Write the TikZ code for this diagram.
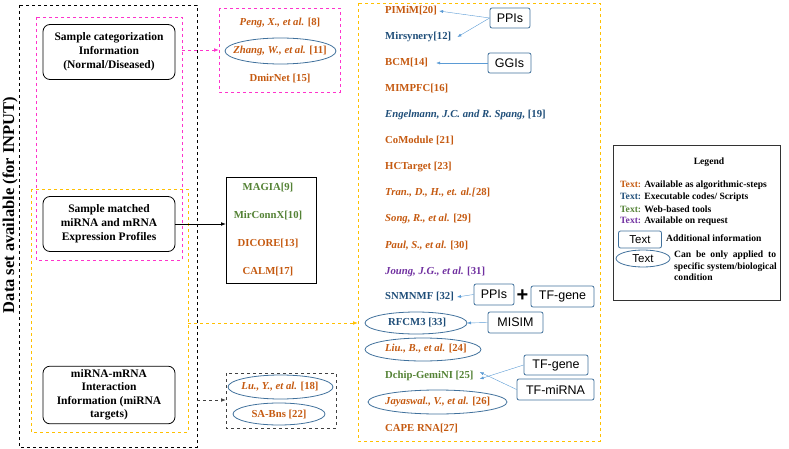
\documentclass[tikz,border=0pt]{standalone}
\usepackage{fontspec}
\setmainfont{Liberation Serif}
\newfontfamily\sansf{Liberation Sans}
\usetikzlibrary{arrows.meta,shapes.geometric}
\definecolor{cor}{HTML}{C55A11}
\definecolor{cbl}{HTML}{1F4E79}
\definecolor{cgr}{HTML}{548235}
\definecolor{cpu}{HTML}{7030A0}
\definecolor{cbox}{HTML}{41719C}
\definecolor{carr}{HTML}{5B9BD5}
\definecolor{cmag}{HTML}{FF33CC}
\definecolor{cyel}{HTML}{FFC000}
\tikzset{
 it/.style={anchor=west,font=\fontsize{10.7}{12}\selectfont\bfseries,inner sep=0pt},
 rbox/.style={draw=black,rounded corners=7pt,minimum width=132pt,minimum height=55pt,align=center,font=\fontsize{11.5}{14}\selectfont\bfseries,thick},
 info/.style={draw=cbox,rounded corners=2pt,thick,font=\sansf\fontsize{12.5}{13}\selectfont,inner sep=2pt},
 ell/.style={draw=cbox,thick,ellipse},
 iarr/.style={draw=carr,-{Latex[length=4pt]}},
 dsh/.style={dashed,thick},
 lg/.style={anchor=west,inner sep=0pt,font=\fontsize{9.6}{10}\selectfont\bfseries},
}
\begin{document}
\begin{tikzpicture}[x=1pt,y=-1pt]
\useasboundingbox (0,0) rectangle (789,449);
% left boxes
\draw[dsh,black] (19,5) rectangle (197,447);
\draw[dsh,cmag] (36,17) rectangle (182,260);
\draw[dsh,cyel] (31,189) rectangle (188,432);
\node[rbox] (b1) at (109,52) {Sample categorization\\Information\\(Normal/Diseased)};
\node[rbox] (b2) at (109,224) {Sample matched\\miRNA and mRNA\\Expression Profiles};
\node[rbox,font=\fontsize{11.5}{13.5}\selectfont\bfseries] (b3) at (109,395) {miRNA-mRNA\\Interaction\\Information (miRNA\\targets)};
\node[rotate=90,font=\fontsize{16.5}{18}\selectfont\bfseries] (lab) at (10,205) {Data set available (for INPUT)};
% magenta group
\draw[dsh,cmag] (219,8) rectangle (340,92);
\node[it,anchor=center,text=cor] (peng) at (280,23) {\textit{Peng, X., et al.} [8]};
\draw[ell] (280.5,51) ellipse (55.5pt and 13pt);
\node[it,anchor=center,text=cor] (zhang) at (280,51) {\textit{Zhang, W., et al.} [11]};
\node[it,anchor=center,text=cor] (dmir) at (280,79) {DmirNet [15]};
\coordinate (m1) at (182,50);
\coordinate (m2) at (219,50);
\draw[dsh,cmag,-{Latex[length=5pt]}] (m1) -- (m2);
% black group
\draw[thick] (226,177) rectangle (316,283);
\node[it,anchor=center,text=cgr] (magia) at (268,188) {MAGIA[9]};
\node[it,anchor=center,text=cgr] (mirc) at (268,216) {MirConnX[10]};
\node[it,anchor=center,text=cor] (dic) at (268,244) {DICORE[13]};
\node[it,anchor=center,text=cor] (calm) at (268,272) {CALM[17]};
\coordinate (bx) at (226,224);
\draw[thick,-{Latex[length=5pt]}] (b2.east) -- (bx);
% dashed black group
\draw[dsh,black!75] (226,373) rectangle (336,428);
\draw[ell] (280.5,387) ellipse (52.5pt and 12pt);
\node[it,anchor=center,text=cor] (lu) at (280,387) {\textit{Lu., Y., et al.} [18]};
\draw[ell] (279,414) ellipse (46pt and 11pt);
\node[it,anchor=center,text=cor] (sab) at (279,414) {SA-Bns [22]};
\coordinate (d1) at (197,400);
\coordinate (d2) at (226,400);
\draw[dsh,black!75,-{Latex[length=5pt]}] (d1) -- (d2);
% big yellow
\draw[dsh,cyel] (358,3) rectangle (600,441);
\coordinate (y1) at (188,323);
\coordinate (y2) at (358,323);
\draw[dsh,cyel,-{Latex[length=5pt]}] (y1) -- (y2);
\node[it,text=cor] (pim) at (385,11) {PIMiM[20]};
\node[it,text=cbl] (mirs) at (385,37) {Mirsynery[12]};
\node[it,text=cor] (bcm) at (385,63) {BCM[14]};
\node[it,text=cor] (mim) at (385,89) {MIMPFC[16]};
\node[it,text=cbl] (eng) at (385,115) {\textit{Engelmann, J.C. and R. Spang,} [19]};
\node[it,text=cor] (com) at (385,141) {CoModule [21]};
\node[it,text=cor] (hct) at (385,167) {HCTarget [23]};
\node[it,text=cor] (tran) at (385,193) {\textit{Tran., D., H., et. al.[}28]};
\node[it,text=cor] (song) at (385,219) {\textit{Song, R., et al.} [29]};
\node[it,text=cor] (paul) at (385,246) {\textit{Paul, S., et al.} [30]};
\node[it,text=cpu] (joung) at (385,272) {\textit{Joung, J.G., et al.} [31]};
\node[it,text=cbl] (snm) at (385,297) {SNMNMF [32]};
\draw[ell] (416,323) ellipse (51pt and 11pt);
\node[it,text=cbl] (rfc) at (388,323) {RFCM3 [33]};
\draw[ell] (423,349.5) ellipse (58pt and 11.5pt);
\node[it,text=cor] (liu) at (385,349) {\textit{Liu., B., et al.} [24]};
\node[it,text=cgr] (dch) at (385,376) {Dchip-GemiNI [25]};
\draw[ell] (437.5,402) ellipse (69.5pt and 12pt);
\node[it,text=cor] (jay) at (385,402) {\textit{Jayaswal., V., et al.} [26]};
\node[it,text=cor] (cape) at (385,428) {CAPE RNA[27]};
% info boxes
\node[info,minimum width=40pt,minimum height=20pt] (ppi1) at (510,18) {PPIs};
\node[info,minimum width=43pt,minimum height=20pt] (ggi) at (509.5,63) {GGIs};
\node[info,minimum width=40pt,minimum height=21pt] (ppi2) at (494,294.5) {PPIs};
\node[font=\fontsize{20}{20}\selectfont\bfseries\sansf] (plus) at (522.5,296) {+};
\node[info,minimum width=63pt,minimum height=21pt] (tfg1) at (562.5,296.5) {TF-gene};
\node[info,minimum width=55pt,minimum height=21pt] (mis) at (515.5,322.5) {MISIM};
\node[info,minimum width=64pt,minimum height=20pt] (tfg2) at (556,365) {TF-gene};
\node[info,minimum width=77pt,minimum height=21pt] (tfm) at (555.5,389.5) {TF-miRNA};
\draw[iarr] (ppi1.west) -- ([xshift=2pt]pim.east);
\draw[iarr] (ppi1.west) -- ([xshift=6pt]mirs.east);
\draw[iarr] (ggi.west) -- ([xshift=8pt]bcm.east);
\draw[iarr] (ppi2.west) -- ([xshift=3pt]snm.east);
\draw[iarr] (mis.west) -- (467,323);
\draw[iarr] (tfg2.west) -- ([xshift=6pt,yshift=-3pt]dch.east);
\draw[iarr] (tfm.west) -- ([xshift=6pt,yshift=4pt]dch.east);
% legend
\draw[thick,black!80] (613,145) rectangle (780,300);
\node[font=\fontsize{9.6}{10}\selectfont\bfseries] (leg) at (709,162) {Legend};
\node[lg] (l1) at (620,185) {\textcolor{cor}{Text:} Available as algorithmic-steps};
\node[lg] (l2) at (620,197) {\textcolor{cbl}{Text:} Executable codes/ Scripts};
\node[lg] (l3) at (620,209) {\textcolor{cgr}{Text:} Web-based tools};
\node[lg] (l4) at (620,221) {\textcolor{cpu}{Text:} Available on request};
\node[info,minimum width=43pt,minimum height=17pt,font=\sansf\fontsize{11.5}{12}\selectfont] (lt) at (640,239.5) {Text};
\node[lg] (l5) at (666,238) {Additional information};
\draw[ell] (643,258.5) ellipse (27pt and 8.5pt);
\node[font=\sansf\fontsize{11.5}{12}\selectfont] (le) at (643,258.5) {Text};
\node[lg,anchor=north west,align=left,font=\fontsize{9.6}{11.5}\selectfont\bfseries] (l6) at (674,251) {Can\ \ be\ \ only\ \ applied\ \ to\\specific system/biological\\condition};
\end{tikzpicture}
\end{document}
